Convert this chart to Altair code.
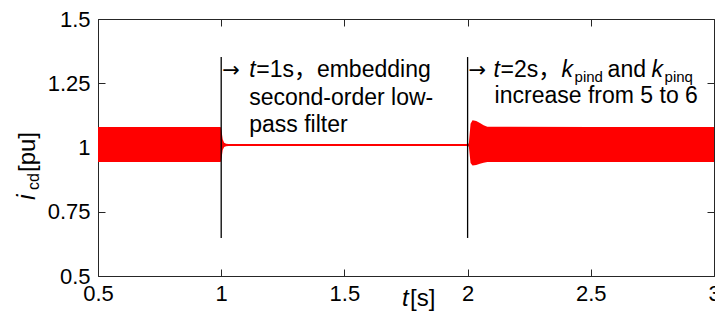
import altair as alt
import pandas as pd

# ---- data ----
env_t  = [0.5, 0.998, 1.002, 1.006, 1.012, 1.020, 1.030, 1.5, 1.995, 2.005, 2.012, 2.020, 2.035, 2.050, 2.065, 2.080, 2.5, 3.0]
env_hi = [1.080, 1.080, 1.060, 1.032, 1.018, 1.015, 1.014, 1.014, 1.014, 1.016, 1.092, 1.106, 1.103, 1.095, 1.087, 1.081, 1.080, 1.080]
env_lo = [0.944, 0.944, 0.962, 0.990, 1.002, 1.005, 1.006, 1.006, 1.006, 1.004, 0.940, 0.930, 0.932, 0.937, 0.941, 0.944, 0.944, 0.944]

event_t = [1.0, 2.0]
event_lo = [0.648, 0.648]
event_hi = [1.352, 1.352]

x_ticks = [0.5, 1, 1.5, 2, 2.5, 3]
x_tick_labels = ["0.5", "1", "1.5", "2", "2.5", "3"]
y_ticks = [0.5, 0.75, 1, 1.25, 1.5]
y_tick_labels = ["0.5", "0.75", "1", "1.25", "1.5"]

ann_text  = ["→", "t", "=1s，embedding", "second-order low-", "pass filter",
             "→", "t", "=2s，", "k", "pind", "and", "k", "pinq", "increase from 5 to 6"]
ann_t     = [1, 1, 1, 1, 1, 2, 2, 2, 2, 2, 2, 2, 2, 2]
ann_v     = [1.274, 1.274, 1.274, 1.165, 1.060, 1.274, 1.274, 1.274, 1.274, 1.274, 1.274, 1.274, 1.274, 1.173]
ann_dx    = [1, 28, 35, 28, 28, 1, 26, 33, 94, 107, 140, 184, 197, 27]
ann_style = ["a", "i", "n", "n", "n", "a", "i", "n", "i", "s", "n", "i", "s", "n"]

W, H = 616, 257
FONT = "Liberation Sans, Arial, Noto Sans CJK SC, DejaVu Sans"
AX = "#262626"

env = pd.DataFrame({"t": env_t, "hi": env_hi, "lo": env_lo})
events = pd.DataFrame({"t": event_t, "lo": event_lo, "hi": event_hi})
ann = pd.DataFrame({"t": ann_t, "v": ann_v, "text": ann_text})

xscale = alt.Scale(domain=[0.5, 3], nice=False, zero=False)
yscale = alt.Scale(domain=[0.5, 1.5], nice=False, zero=False)

x_label_expr = f"{x_tick_labels}[indexof({x_ticks}, datum.value)]"
y_label_expr = f"{y_tick_labels}[indexof({y_ticks}, datum.value)]"

common_axis = dict(domainColor=AX, tickColor=AX, tickWidth=1, domainWidth=1,
                   tickSize=alt.ExprRef(expr="-7"), grid=False, title=None,
                   labelFont=FONT, labelFontSize=22, labelColor="black",
                   labelFlush=False, labelOverlap=False, labelBound=False)

band = alt.Chart(env).mark_area(color="#ff0000", opacity=1, interpolate="linear").encode(
    x=alt.X("t:Q", scale=xscale,
            axis=alt.Axis(orient="bottom", values=x_ticks, labelExpr=x_label_expr,
                          labelPadding=14, **common_axis)),
    y=alt.Y("hi:Q", scale=yscale,
            axis=alt.Axis(orient="left", values=y_ticks, labelExpr=y_label_expr,
                          labelPadding=15, **common_axis)),
    y2="lo:Q",
)

rules = alt.Chart(events).mark_rule(color="black", strokeWidth=1.3).encode(
    x=alt.X("t:Q", scale=xscale,
            axis=alt.Axis(orient="top", values=x_ticks, labels=False, **common_axis)),
    y=alt.Y("lo:Q", scale=yscale,
            axis=alt.Axis(orient="right", values=y_ticks, labels=False, **common_axis)),
    y2="hi:Q",
)

layers = [band, rules]

for i in range(len(ann_text)):
    st = ann_style[i]
    props = dict(align="left", baseline="alphabetic", font=FONT, color="black",
                 fontSize=23, dx=ann_dx[i])
    if st == "i":
        props["fontStyle"] = "italic"
    if st == "s":
        props["fontSize"] = 15
        props["dy"] = 5
    if st == "a":
        props["font"] = "DejaVu Sans"
        props["fontSize"] = 21
    layers.append(
        alt.Chart(ann.iloc[[i]]).mark_text(**props).encode(
            x=alt.X("t:Q", scale=xscale, axis=None),
            y=alt.Y("v:Q", scale=yscale, axis=None),
            text="text:N",
        )
    )

# axis titles drawn as text pieces (mixed italic / subscript)
ytitle_text = ["i", "cd", "[pu]"]
ytitle_pos = [181, 171, 153]
ytitle_x = [-63, -59, -63]
ytitle_size = [25, 16, 24]
ytitle_style = ["italic", "normal", "normal"]
for txt, yp, xp, fs, fst in zip(ytitle_text, ytitle_pos, ytitle_x, ytitle_size, ytitle_style):
    layers.append(
        alt.Chart(pd.DataFrame({"text": [txt]})).mark_text(
            align="left", baseline="alphabetic", angle=270, font=FONT, fontSize=fs,
            fontStyle=fst, color="black").encode(
            x=alt.value(xp), y=alt.value(yp), text="text:N")
    )

xtitle_text = ["t", "[s]"]
xtitle_pos = [304, 312]
xtitle_style = ["italic", "normal"]
for txt, xp, fst in zip(xtitle_text, xtitle_pos, xtitle_style):
    layers.append(
        alt.Chart(pd.DataFrame({"text": [txt]})).mark_text(
            align="left", baseline="alphabetic", font=FONT, fontSize=24,
            fontStyle=fst, color="black").encode(
            x=alt.value(xp), y=alt.value(287), text="text:N")
    )

chart = alt.layer(*layers).resolve_axis(x="independent", y="independent").properties(
    width=W, height=H,
    autosize=alt.AutoSizeParams(type="none"),
    padding={"left": 90, "top": 11, "right": 1, "bottom": 40},
).configure_view(stroke=None).configure(background="white")

chart.save("out.html", embed_options={"renderer": "svg", "actions": False})
